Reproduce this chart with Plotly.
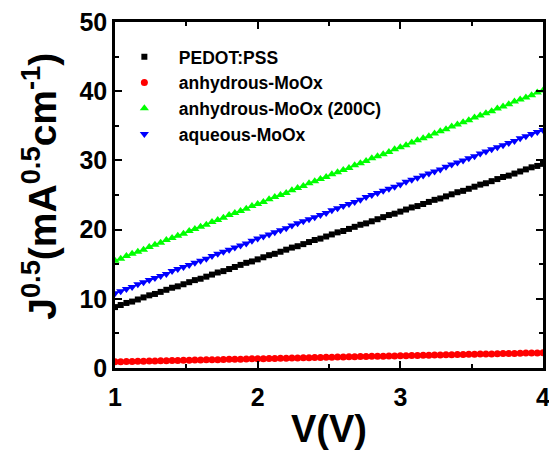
import plotly.graph_objects as go

V = [1.00, 1.04, 1.08, 1.12, 1.16, 1.20, 1.24, 1.28, 1.32, 1.36,
     1.40, 1.44, 1.48, 1.52, 1.56, 1.60, 1.64, 1.68, 1.72, 1.76,
     1.80, 1.84, 1.88, 1.92, 1.96, 2.00, 2.04, 2.08, 2.12, 2.16,
     2.20, 2.24, 2.28, 2.32, 2.36, 2.40, 2.44, 2.48, 2.52, 2.56,
     2.60, 2.64, 2.68, 2.72, 2.76, 2.80, 2.84, 2.88, 2.92, 2.96,
     3.00, 3.04, 3.08, 3.12, 3.16, 3.20, 3.24, 3.28, 3.32, 3.36,
     3.40, 3.44, 3.48, 3.52, 3.56, 3.60, 3.64, 3.68, 3.72, 3.76,
     3.80, 3.84, 3.88, 3.92, 3.96, 4.00]

pedot = [8.8, 9.1, 9.4, 9.6, 9.9, 10.2, 10.5, 10.7, 11.0, 11.3,
         11.6, 11.8, 12.1, 12.4, 12.7, 12.9, 13.2, 13.5, 13.8, 14.0,
         14.3, 14.6, 14.9, 15.2, 15.4, 15.7, 16.0, 16.3, 16.5, 16.8,
         17.1, 17.4, 17.6, 17.9, 18.2, 18.5, 18.7, 19.0, 19.3, 19.6,
         19.8, 20.1, 20.4, 20.7, 20.9, 21.2, 21.5, 21.8, 22.1, 22.3,
         22.6, 22.9, 23.2, 23.4, 23.7, 24.0, 24.3, 24.5, 24.8, 25.1,
         25.4, 25.6, 25.9, 26.2, 26.5, 26.7, 27.0, 27.3, 27.6, 27.8,
         28.1, 28.4, 28.7, 29.0, 29.2, 29.5]

anhydrous = [0.90, 0.92, 0.93, 0.95, 0.97, 0.99, 1.00, 1.02, 1.04, 1.06,
             1.07, 1.09, 1.11, 1.13, 1.14, 1.16, 1.18, 1.19, 1.21, 1.23,
             1.25, 1.26, 1.28, 1.30, 1.32, 1.33, 1.35, 1.37, 1.39, 1.40,
             1.42, 1.44, 1.45, 1.47, 1.49, 1.51, 1.52, 1.54, 1.56, 1.58,
             1.59, 1.61, 1.63, 1.65, 1.66, 1.68, 1.70, 1.71, 1.73, 1.75,
             1.77, 1.78, 1.80, 1.82, 1.84, 1.85, 1.87, 1.89, 1.91, 1.92,
             1.94, 1.96, 1.97, 1.99, 2.01, 2.03, 2.04, 2.06, 2.08, 2.10,
             2.11, 2.13, 2.15, 2.17, 2.18, 2.20]

anhydrous200 = [15.5, 15.8, 16.2, 16.5, 16.8, 17.1, 17.5, 17.8, 18.1, 18.5,
                18.8, 19.1, 19.4, 19.8, 20.1, 20.4, 20.7, 21.1, 21.4, 21.7,
                22.1, 22.4, 22.7, 23.0, 23.4, 23.7, 24.0, 24.4, 24.7, 25.0,
                25.3, 25.7, 26.0, 26.3, 26.7, 27.0, 27.3, 27.6, 28.0, 28.3,
                28.6, 28.9, 29.3, 29.6, 29.9, 30.3, 30.6, 30.9, 31.2, 31.6,
                31.9, 32.2, 32.6, 32.9, 33.2, 33.5, 33.9, 34.2, 34.5, 34.9,
                35.2, 35.5, 35.8, 36.2, 36.5, 36.8, 37.1, 37.5, 37.8, 38.1,
                38.5, 38.8, 39.1, 39.4, 39.8, 40.1]

aqueous = [10.8, 11.1, 11.4, 11.7, 12.1, 12.4, 12.7, 13.0, 13.3, 13.6,
           14.0, 14.3, 14.6, 14.9, 15.2, 15.5, 15.8, 16.2, 16.5, 16.8,
           17.1, 17.4, 17.7, 18.0, 18.4, 18.7, 19.0, 19.3, 19.6, 19.9,
           20.2, 20.6, 20.9, 21.2, 21.5, 21.8, 22.1, 22.4, 22.8, 23.1,
           23.4, 23.7, 24.0, 24.3, 24.7, 25.0, 25.3, 25.6, 25.9, 26.2,
           26.5, 26.9, 27.2, 27.5, 27.8, 28.1, 28.4, 28.7, 29.1, 29.4,
           29.7, 30.0, 30.3, 30.6, 31.0, 31.3, 31.6, 31.9, 32.2, 32.5,
           32.8, 33.2, 33.5, 33.8, 34.1, 34.4]

names = ["PEDOT:PSS", "anhydrous-MoOx", "anhydrous-MoOx (200C)", "aqueous-MoOx"]
series = [pedot, anhydrous, anhydrous200, aqueous]
colors = ["#000000", "#ff0000", "#00ff00", "#0000ff"]
symbols = ["square", "circle", "triangle-up", "triangle-down"]
sizes = [6, 7, 8, 8]

FONT = "Liberation Sans, Arial, sans-serif"

fig = go.Figure()
for name, ys, c, s, sz in zip(names, series, colors, symbols, sizes):
    fig.add_trace(go.Scatter(x=V, y=ys, mode="lines", line=dict(color=c, width=1.5),
                             showlegend=False, hoverinfo="skip"))
    fig.add_trace(go.Scatter(x=V, y=ys, mode="markers", name=name,
                             marker=dict(symbol=s, color=c, size=sz, line=dict(width=0))))

axis_common = dict(
    showline=True, linecolor="black", linewidth=2.5, mirror="ticks",
    ticks="inside", ticklen=7, tickwidth=2, tickcolor="black",
    showgrid=False, zeroline=False, automargin=False, ticklabeloverflow="allow",
    tickfont=dict(family=FONT, size=25, color="black", weight="bold"),
)

fig.update_xaxes(range=[1, 4], tickvals=[1, 2, 3, 4], ticktext=["1", "2", "3", "4"],
                 minor=dict(ticks="inside", ticklen=4, tickwidth=2, tickcolor="black", dtick=0.5, tick0=1),
                 ticklabelstandoff=5,
                 title=dict(text="V(V)", font=dict(family=FONT, size=38, color="black", weight="bold"),
                            standoff=6),
                 **axis_common)
fig.update_yaxes(range=[0, 50], tickvals=[0, 10, 20, 30, 40, 50],
                 minor=dict(ticks="inside", ticklen=4, tickwidth=2, tickcolor="black", dtick=5, tick0=0),
                 **axis_common)

fig.add_annotation(
    text="J<sup>0.5</sup>(mA<sup>0.5</sup>cm<sup>-1</sup>)",
    xref="paper", yref="paper", x=-0.178, y=0.526,
    xanchor="center", yanchor="middle", textangle=-90, showarrow=False,
    font=dict(family=FONT, size=39, color="black", weight="bold"),
)

fig.update_layout(
    width=549, height=450,
    margin=dict(l=115, r=6, t=22, b=82),
    paper_bgcolor="white", plot_bgcolor="white",
    legend=dict(x=-0.012, y=0.951, xanchor="left", yanchor="top",
                bgcolor="rgba(0,0,0,0)", borderwidth=0,
                font=dict(family=FONT, size=17.5, color="black", weight="bold"),
                itemwidth=59, tracegroupgap=0),
)

fig.write_html("out.html")
